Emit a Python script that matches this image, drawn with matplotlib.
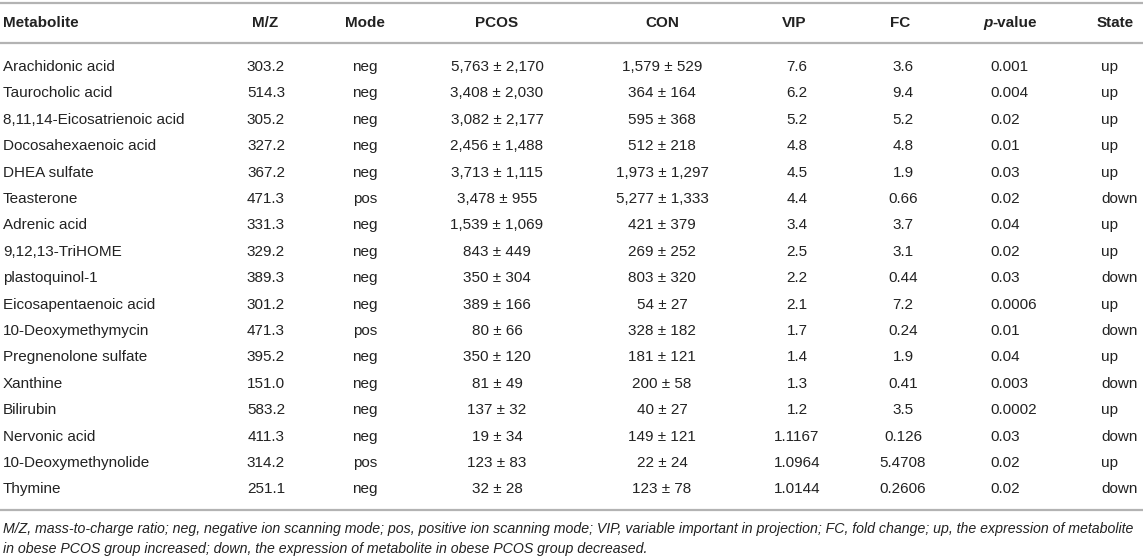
import matplotlib
matplotlib.use("Agg")
import matplotlib.pyplot as plt

plt.rcParams['font.family'] = ['Liberation Sans', 'DejaVu Sans']

# table contents
metabolites = ["Arachidonic acid", "Taurocholic acid", "8,11,14-Eicosatrienoic acid",
               "Docosahexaenoic acid", "DHEA sulfate", "Teasterone", "Adrenic acid",
               "9,12,13-TriHOME", "plastoquinol-1", "Eicosapentaenoic acid",
               "10-Deoxymethymycin", "Pregnenolone sulfate", "Xanthine", "Bilirubin",
               "Nervonic acid", "10-Deoxymethynolide", "Thymine"]
mz = ["303.2", "514.3", "305.2", "327.2", "367.2", "471.3", "331.3", "329.2", "389.3",
      "301.2", "471.3", "395.2", "151.0", "583.2", "411.3", "314.2", "251.1"]
mode = ["neg", "neg", "neg", "neg", "neg", "pos", "neg", "neg", "neg",
        "neg", "pos", "neg", "neg", "neg", "neg", "pos", "neg"]
pcos_mean = [5763, 3408, 3082, 2456, 3713, 3478, 1539, 843, 350, 389, 80, 350, 81, 137, 19, 123, 32]
pcos_sd = [2170, 2030, 2177, 1488, 1115, 955, 1069, 449, 304, 166, 66, 120, 49, 32, 34, 83, 28]
con_mean = [1579, 364, 595, 512, 1973, 5277, 421, 269, 803, 54, 328, 181, 200, 40, 149, 22, 123]
con_sd = [529, 164, 368, 218, 1297, 1333, 379, 252, 320, 27, 182, 121, 58, 27, 121, 24, 78]
vip = ["7.6", "6.2", "5.2", "4.8", "4.5", "4.4", "3.4", "2.5", "2.2", "2.1", "1.7", "1.4",
       "1.3", "1.2", "1.1167", "1.0964", "1.0144"]
fc = ["3.6", "9.4", "5.2", "4.8", "1.9", "0.66", "3.7", "3.1", "0.44", "7.2", "0.24", "1.9",
      "0.41", "3.5", "0.126", "5.4708", "0.2606"]
pval = ["0.001", "0.004", "0.02", "0.01", "0.03", "0.02", "0.04", "0.02", "0.03", "0.0006",
        "0.01", "0.04", "0.003", "0.0002", "0.03", "0.02", "0.02"]
state = ["up", "up", "up", "up", "up", "down", "up", "up", "down", "up", "down", "up",
         "down", "up", "down", "up", "down"]

footnote = ["M/Z, mass-to-charge ratio; neg, negative ion scanning mode; pos, positive ion "
            "scanning mode; VIP, variable important in projection; FC, fold change; up, the "
            "expression of metabolite",
            "in obese PCOS group increased; down, the expression of metabolite in obese PCOS "
            "group decreased."]

W, H = 1143, 558
fig = plt.figure(figsize=(W / 100, H / 100), dpi=100)
ax = fig.add_axes([0, 0, 1, 1])
ax.set_xlim(0, W)
ax.set_ylim(H, 0)
ax.axis("off")

txt_col = "#222222"
line_col = "#b3b3b3"
fs = 11
fs_note = 10.2

for y in (3, 43, 510):
    ax.plot([0, W], [y, y], color=line_col, lw=1.6, solid_capstyle="butt")

# header
hy = 23
hdr = dict(fontsize=fs, fontweight="bold", color=txt_col, va="center")
ax.text(3, hy, "Metabolite", ha="left", **hdr)
ax.text(265, hy, "M/Z", ha="center", **hdr)
ax.text(365, hy, "Mode", ha="center", **hdr)
ax.text(497, hy, "PCOS", ha="center", **hdr)
ax.text(662, hy, "CON", ha="center", **hdr)
ax.text(794, hy, "VIP", ha="center", **hdr)
ax.text(900, hy, "FC", ha="center", **hdr)
ax.text(1097, hy, "State", ha="left", **hdr)

# p-value header: italic p followed by bold text
fig.canvas.draw()
r = fig.canvas.get_renderer()
tp = ax.text(0, hy, "p", ha="left", fontstyle="italic", **hdr)
tv = ax.text(0, hy, "-value", ha="left", **hdr)
wp = tp.get_window_extent(r).width
wv = tv.get_window_extent(r).width
x0 = 1010 - (wp + wv) / 2
tp.set_x(x0)
tv.set_x(x0 + wp)

cell = dict(fontsize=fs, color=txt_col, va="center")
for i in range(len(metabolites)):
    y = 67 + i * 26.4
    ax.text(3, y, metabolites[i], ha="left", **cell)
    ax.text(266, y, mz[i], ha="center", **cell)
    ax.text(365, y, mode[i], ha="center", **cell)
    ax.text(497, y, f"{pcos_mean[i]:,} \u00b1 {pcos_sd[i]:,}", ha="center", **cell)
    ax.text(662, y, f"{con_mean[i]:,} \u00b1 {con_sd[i]:,}", ha="center", **cell)
    ax.text(797, y, vip[i], ha="center", **cell)
    ax.text(903, y, fc[i], ha="center", **cell)
    ax.text(990, y, pval[i], ha="left", **cell)
    ax.text(1101, y, state[i], ha="left", **cell)

for k, line in enumerate(footnote):
    ax.text(3, 529 + k * 20, line, ha="left", va="center", fontsize=fs_note,
            fontstyle="italic", color=txt_col)

fig.savefig("out.png", dpi=100)
